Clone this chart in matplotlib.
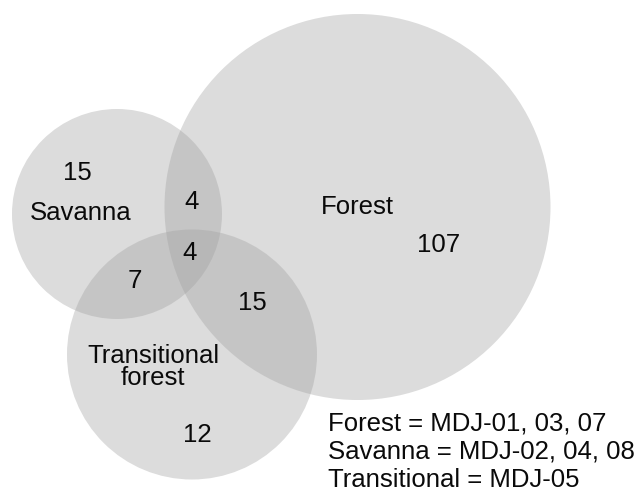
import matplotlib
matplotlib.use("Agg")
import matplotlib.pyplot as plt
from matplotlib.patches import Circle

plt.rcParams['font.family'] = ['Liberation Sans', 'DejaVu Sans']

# Sets (circle geometry in pixel coords of the reference figure)
set_names = ["Forest", "Savanna", "Transitional"]
set_centers = [(357.5, 207), (117, 214), (192, 354.5)]
set_radii = [193, 105, 125]

# Region counts and label positions
region_counts = ["15", "4", "4", "7", "15", "12", "107"]
region_pos = [(77, 173), (192, 202), (190, 253), (135, 281), (252, 303), (197, 435), (439, 245)]

set_labels = ["Forest", "Savanna", "Transitional\nforest"]
set_label_pos = [(357, 207), (81, 213), (153, 367)]

legend_lines = ["Forest = MDJ-01, 03, 07",
                "Savanna = MDJ-02, 04, 08",
                "Transitional = MDJ-05"]

W, H = 636, 493
fig = plt.figure(figsize=(W / 100, H / 100), dpi=100)
ax = fig.add_axes([0, 0, 1, 1])
ax.set_xlim(0, W)
ax.set_ylim(H, 0)
ax.set_aspect('equal')
ax.axis('off')

for (cx, cy), r in zip(set_centers, set_radii):
    ax.add_patch(Circle((cx, cy), r, facecolor='#a0a0a0', alpha=0.37, edgecolor='none'))

fs = 18.5
for t, (x, y) in zip(region_counts, region_pos):
    ax.text(x, y, t, ha='center', va='center', fontsize=fs, color='#0a0a0a')
for t, (x, y) in zip(set_labels, set_label_pos):
    ax.text(x, y, t, ha='center', va='center', fontsize=fs, color='#0a0a0a', linespacing=0.85)

for i, t in enumerate(legend_lines):
    ax.text(328, 423 + 28.5 * i, t, ha='left', va='center', fontsize=fs, color='#0a0a0a')

fig.savefig("out.png", dpi=100)
